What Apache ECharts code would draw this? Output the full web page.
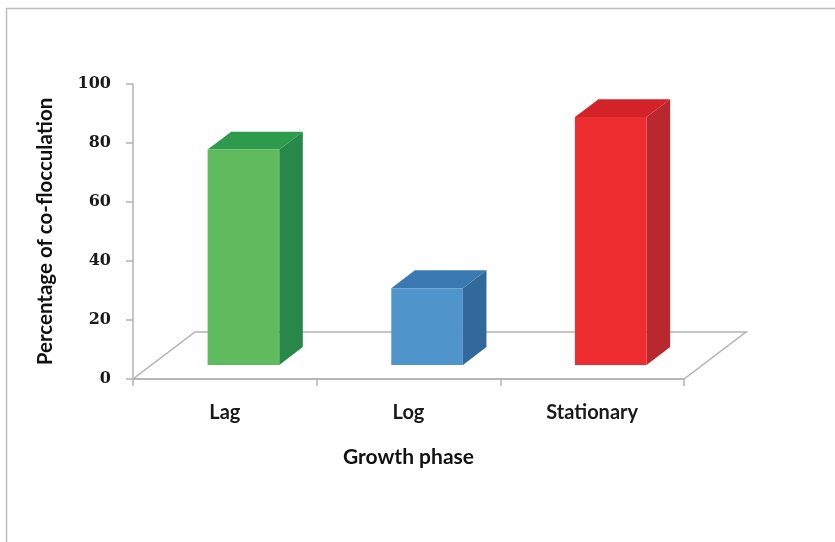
<!DOCTYPE html>
<html>
<head>
<meta charset="utf-8">
<script src="https://cdn.jsdelivr.net/npm/echarts@6/dist/echarts.min.js"></script>
<style>
  html, body { margin: 0; padding: 0; background: #fff; }
  #chart { width: 835px; height: 542px; }
</style>
</head>
<body>
<div id="chart"></div>
<script>
// Co-flocculation by growth phase
const categories = ['Lag', 'Log', 'Stationary'];
const coflocculation = [73, 26, 84];
const yTicks = [0, 20, 40, 60, 80, 100];

// Face colours per bar: front, side, top
const frontColors = ['#5fbb5e', '#4f95cc', '#ee2d31'];
const sideColors  = ['#27884a', '#33689a', '#b8282e'];
const topColors   = ['#2d9a4c', '#3a79b2', '#d42229'];

// Oblique depth of the floor (pixels) and where the columns sit within it
const DEPTH_DX = 62, DEPTH_DY = -47;
const BAR_FRONT = 0.30, BAR_BACK = 0.68;
const BAR_WIDTH = 0.39;
const AXIS_GREY = '#b3b3b3';

const chart = echarts.init(document.getElementById('chart'));

function renderFloor(params, api) {
  const cs = params.coordSys;
  const y0 = api.coord([0, 0])[1];
  const x0 = cs.x, x1 = cs.x + cs.width;
  return {
    type: 'polygon',
    shape: {
      points: [
        [x0, y0], [x1, y0],
        [x1 + DEPTH_DX, y0 + DEPTH_DY],
        [x0 + DEPTH_DX, y0 + DEPTH_DY]
      ]
    },
    style: { fill: '#ffffff', stroke: AXIS_GREY, lineWidth: 1.5 }
  };
}

function renderColumn(params, api) {
  const i = params.dataIndex;
  const cat = api.value(0);
  const val = api.value(1);
  const base = api.coord([cat, 0]);
  const top = api.coord([cat, val]);
  const band = api.size([1, 0])[0];
  const w = band * BAR_WIDTH;
  const fx = DEPTH_DX * BAR_FRONT, fy = DEPTH_DY * BAR_FRONT;
  const dx = DEPTH_DX * (BAR_BACK - BAR_FRONT), dy = DEPTH_DY * (BAR_BACK - BAR_FRONT);
  const left = base[0] + fx - w / 2, right = base[0] + fx + w / 2;
  const bottom = base[1] + fy, ytop = top[1] + fy;
  return {
    type: 'group',
    children: [
      {
        type: 'polygon',
        shape: { points: [[right, bottom], [right, ytop], [right + dx, ytop + dy], [right + dx, bottom + dy]] },
        style: { fill: sideColors[i] }
      },
      {
        type: 'polygon',
        shape: { points: [[left, ytop], [right, ytop], [right + dx, ytop + dy], [left + dx, ytop + dy]] },
        style: { fill: topColors[i] }
      },
      {
        type: 'rect',
        shape: { x: left, y: ytop, width: w, height: bottom - ytop },
        style: { fill: frontColors[i] }
      }
    ]
  };
}

const labelFont = 'Lato, "Open Sans", sans-serif';

chart.setOption({
  animation: false,
  backgroundColor: '#ffffff',
  graphic: [{
    type: 'rect',
    shape: { x: 6.5, y: 8.5, width: 900, height: 600 },
    style: { fill: 'none', stroke: '#bdbdbd', lineWidth: 1.5 },
    silent: true,
    z: -10
  }],
  grid: { left: 133, right: 151, top: 84, bottom: 163, containLabel: false },
  xAxis: {
    type: 'category',
    data: categories,
    boundaryGap: true,
    axisLine: { lineStyle: { color: AXIS_GREY, width: 1.5 } },
    axisTick: { show: true, alignWithLabel: false, length: 7, lineStyle: { color: AXIS_GREY, width: 1.5 } },
    axisLabel: { margin: 24, color: '#1a1a1a', fontFamily: labelFont, fontWeight: 'bold', fontSize: 20 },
    name: 'Growth phase',
    nameLocation: 'middle',
    nameGap: 68,
    nameTextStyle: { color: '#111', fontFamily: labelFont, fontWeight: 'bold', fontSize: 21 },
    splitLine: { show: false },
    z: 1
  },
  yAxis: {
    type: 'value',
    min: yTicks[0],
    max: yTicks[yTicks.length - 1],
    interval: yTicks[1] - yTicks[0],
    axisLine: { show: true, lineStyle: { color: AXIS_GREY, width: 1.5 } },
    axisTick: { show: true, length: 7, lineStyle: { color: AXIS_GREY, width: 1.5 } },
    axisLabel: { margin: 22, color: '#1a1a1a', fontFamily: '"DejaVu Serif", serif', fontWeight: 'bold', fontSize: 16 },
    splitLine: { show: false },
    name: 'Percentage of co-flocculation',
    nameLocation: 'middle',
    nameGap: 77,
    nameTextStyle: { color: '#111', fontFamily: labelFont, fontWeight: 'bold', fontSize: 20.5 }
  },
  series: [
    {
      type: 'custom',
      name: 'floor',
      renderItem: renderFloor,
      data: [[0, 0]],
      encode: { x: 0, y: 1 },
      silent: true,
      z: 0
    },
    {
      type: 'custom',
      name: 'Percentage of co-flocculation',
      renderItem: renderColumn,
      data: coflocculation.map((v, i) => [i, v]),
      encode: { x: 0, y: 1 },
      z: 5
    }
  ]
});
</script>
</body>
</html>
